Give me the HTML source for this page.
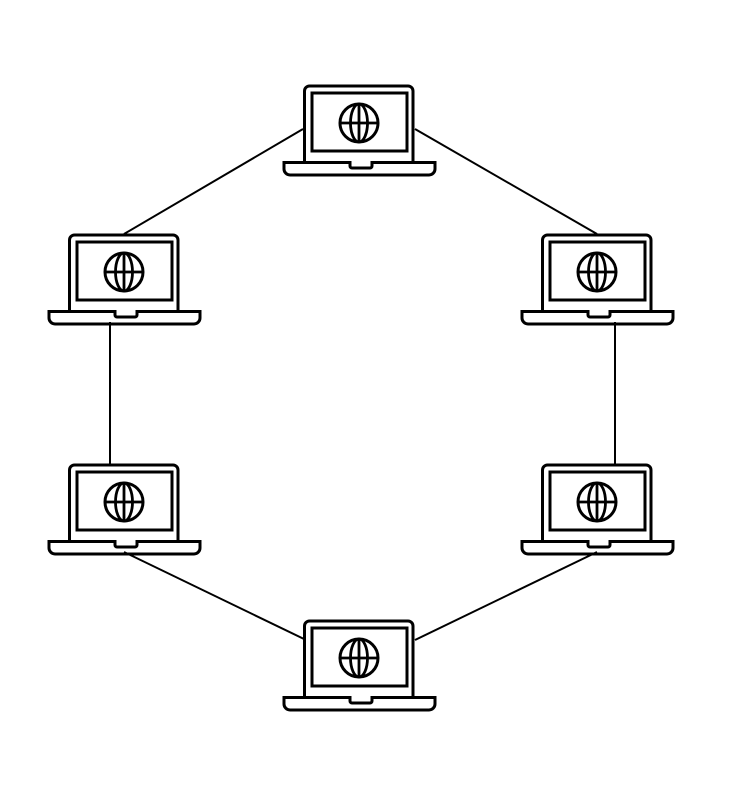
<!DOCTYPE html>
<html><head><style>html,body{margin:0;padding:0;background:#fff;}svg{display:block}</style></head>
<body>
<svg width="752" height="794" viewBox="0 0 752 794" xmlns="http://www.w3.org/2000/svg">
<defs>
<g id="lap" fill="none" stroke="#000" stroke-width="3">
  <path d="M1.5,76 V6 a5,5 0 0 1 5,-5 H105 a5,5 0 0 1 5,5 V76"/>
  <rect x="9" y="8" width="95" height="58" stroke-width="3"/>
  <path d="M-19,77.5 H47 V81 a2,2 0 0 0 2,2 H67 a2,2 0 0 0 2,-2 V77.5 H132 V84 a6,6 0 0 1 -6,6 H-13 a6,6 0 0 1 -6,-6 Z" stroke-width="3"/>
  <circle cx="56" cy="38" r="19" stroke-width="3"/>
  <ellipse cx="56" cy="38" rx="8.5" ry="19" stroke-width="2.8"/>
  <line x1="56" y1="19" x2="56" y2="57" stroke-width="2.8"/>
  <line x1="37" y1="38" x2="75" y2="38" stroke-width="2.8"/>
</g>
</defs>
<g stroke="#000" stroke-width="2" fill="none">
  <line x1="303" y1="129" x2="124" y2="234"/>
  <line x1="415" y1="129" x2="597" y2="234"/>
  <line x1="110" y1="322" x2="110" y2="464"/>
  <line x1="615" y1="322" x2="615" y2="464"/>
  <line x1="124" y1="552" x2="304" y2="639"/>
  <line x1="597" y1="552" x2="415" y2="640"/>
</g>
<use href="#lap" x="303" y="85"/>
<use href="#lap" x="68" y="234"/>
<use href="#lap" x="541" y="234"/>
<use href="#lap" x="68" y="464"/>
<use href="#lap" x="541" y="464"/>
<use href="#lap" x="303" y="620"/>
</svg>
</body></html>
